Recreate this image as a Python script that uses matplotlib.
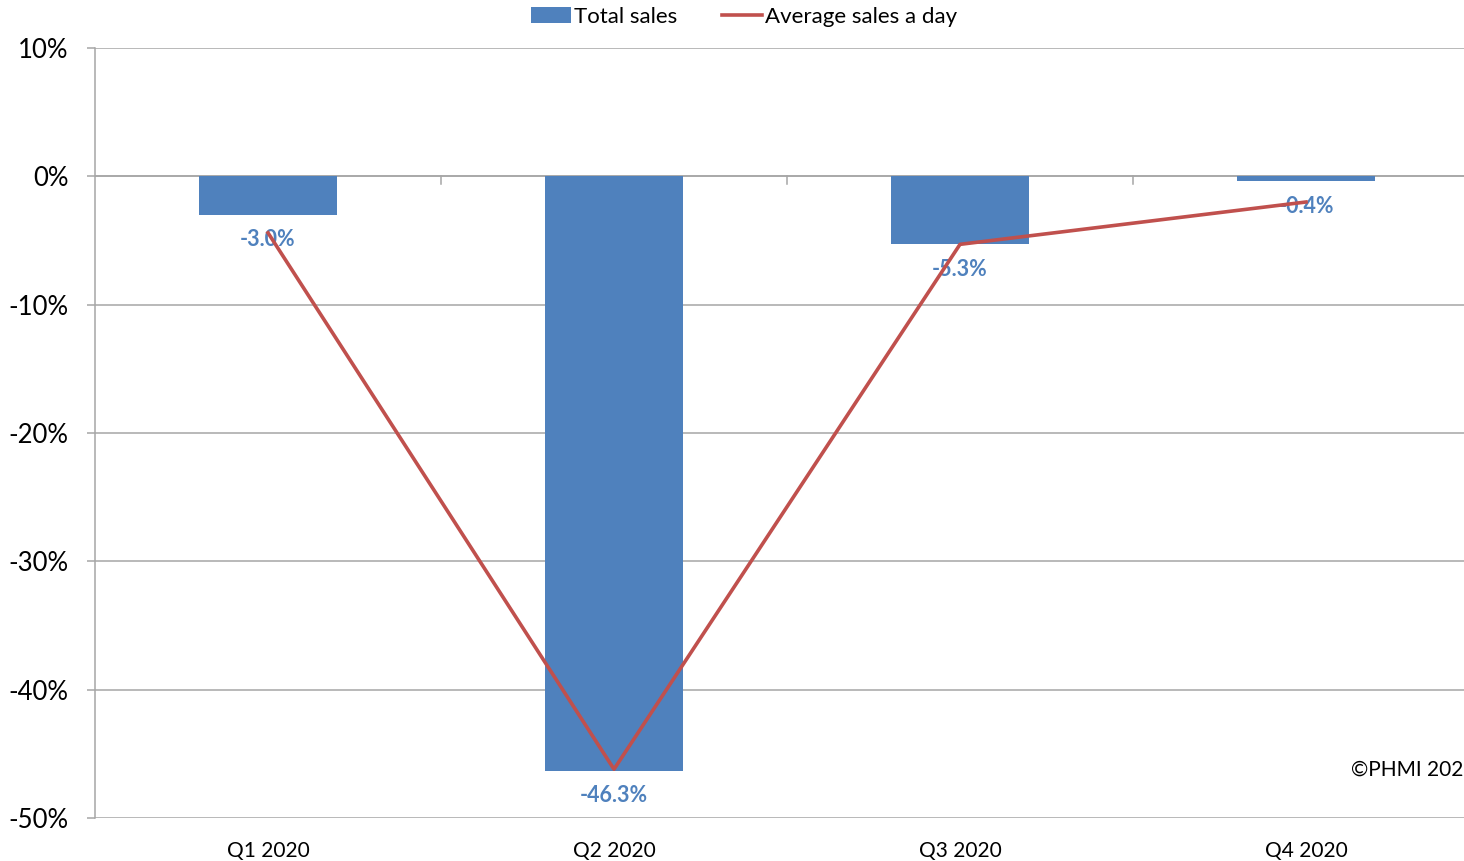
import matplotlib
matplotlib.use("Agg")
import matplotlib.pyplot as plt
from matplotlib.ticker import FuncFormatter, FixedLocator

plt.rcParams['font.family'] = ['Lato', 'DejaVu Sans']

quarters = ["Q1 2020", "Q2 2020", "Q3 2020", "Q4 2020"]
total_sales = [-3.0, -46.3, -5.3, -0.4]
avg_sales_day = [-4.4, -46.2, -5.3, -2.0]
y_ticks = [10, 0, -10, -20, -30, -40, -50]

BAR_COLOR = "#4F81BD"
LINE_COLOR = "#C0504D"
GRID_COLOR = "#A6A6A6"

W, H = 1464, 861
fig = plt.figure(figsize=(W / 100, H / 100), dpi=100)
ax_left, ax_right_px = 95, 95 + 4 * 346
ax_top, ax_bottom = 48, 818
ax = fig.add_axes([ax_left / W, 1 - ax_bottom / H,
                   (ax_right_px - ax_left) / W, (ax_bottom - ax_top) / H])

x = range(len(quarters))
bars = ax.bar(x, total_sales, width=0.4, color=BAR_COLOR, zorder=2,
              label="Total sales")
line, = ax.plot(x, avg_sales_day, color=LINE_COLOR, lw=2.6, zorder=4,
                label="Average sales a day")

for xi, v in zip(x, total_sales):
    ax.annotate(f"{v:.1f}%", (xi, v), xytext=(0, -18), textcoords="offset points",
                ha="center", va="center", fontsize=15.5, fontweight="bold",
                color=BAR_COLOR, zorder=3)

ax.set_xlim(-0.5, 3.5)
ax.set_ylim(-50, 10)
ax.yaxis.set_major_locator(FixedLocator(y_ticks))
ax.yaxis.set_major_formatter(FuncFormatter(lambda v, _: f"{v:.0f}%"))
ax.grid(axis="y", color=GRID_COLOR, lw=1.1, zorder=0)
ax.tick_params(axis="y", length=6, width=1.1, labelsize=18.5, pad=13,
               colors=GRID_COLOR, labelcolor="black")

# category axis sits at 0%, labels placed at the bottom of the plot
ax.set_xticks([])
for xi, q in zip(x, quarters):
    ax.text(xi, -52.6, q, ha="center", va="center", fontsize=15,
            color="black")
ax.axhline(0, color=GRID_COLOR, lw=1.1, zorder=1)
for b in [0.5, 1.5, 2.5]:
    ax.plot([b, b], [0, -0.6], color=GRID_COLOR, lw=1.1, zorder=1,
            clip_on=False)

for s in ["top", "right", "bottom"]:
    ax.spines[s].set_visible(False)
ax.spines["left"].set_color(GRID_COLOR)
ax.spines["left"].set_linewidth(1.1)

fig.text(1351 / W, 1 - 770 / H, "\u00a9PHMI 2020", ha="left", va="center",
         fontsize=15, color="black")

fig.legend(handles=[bars, line], loc="center", bbox_to_anchor=(744 / W, 1 - 17 / H),
           ncol=2, frameon=False, fontsize=16, handlelength=1.8,
           handletextpad=0.15, columnspacing=2.0)

fig.savefig("out.png", dpi=100, facecolor="white")
